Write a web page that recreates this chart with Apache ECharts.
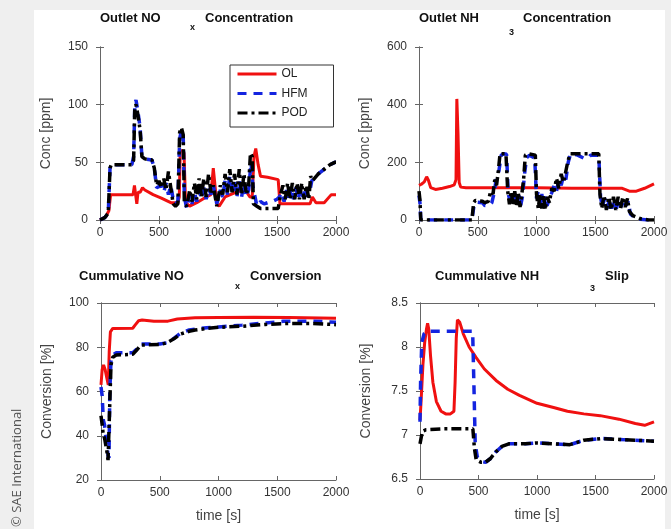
<!DOCTYPE html>
<html>
<head>
<meta charset="utf-8">
<script src="https://cdn.jsdelivr.net/npm/echarts@6/dist/echarts.min.js"></script>
<style>
  html, body { margin: 0; padding: 0; background: #efefef; }
  #chart { width: 671px; height: 529px; }
</style>
</head>
<body>
<div id="chart"></div>
<script>
// ---- data (time [s], value) ----
var timeTicks = [0, 500, 1000, 1500, 2000];

// Outlet NOx concentration [ppm]
var noxOL = [[0,0],[50,3],[75,8],[90,22],[280,22],[292,30],[302,22],[312,14],[322,24],[340,24],[360,28],[380,26],[450,22],[520,19],[600,15],[660,15],[672,20],[680,60],[700,60],[712,58],[725,15],[760,12],[820,15],[900,20],[940,22],[960,45],[975,46],[990,14],[1010,12],[1060,20],[1150,24],[1230,26],[1270,20],[1290,20],[1305,55],[1320,62],[1340,48],[1360,38],[1420,37],[1510,35],[1525,14],[1600,14],[1780,14],[1800,20],[1830,15],[1900,15],[1960,22],[2000,22]];
var noxHFM = [[0,0],[40,2],[70,6],[85,45],[95,48],[270,48],[285,55],[295,100],[305,104],[320,95],[340,80],[355,55],[380,53],[440,52],[460,45],[480,28],[520,30],[540,24],[560,32],[580,22],[600,30],[620,18],[640,14],[660,16],[675,70],[690,78],[705,74],[715,20],[735,10],[760,22],[780,14],[800,24],[820,16],[840,26],[860,18],[880,28],[900,18],[920,28],[940,22],[960,30],[990,14],[1020,26],[1040,20],[1060,34],[1080,22],[1100,38],[1120,22],[1140,36],[1160,20],[1180,34],[1200,20],[1220,32],[1240,20],[1260,26],[1280,50],[1295,30],[1310,22],[1330,12],[1360,16],[1390,14],[1420,15],[1460,16],[1500,18],[1520,20],[1540,24],[1560,16],[1580,26],[1600,16],[1620,28],[1640,18],[1660,28],[1680,18],[1700,28],[1720,20],[1740,28],[1760,20],[1780,26],[1795,34],[1810,34],[1850,40],[1900,44],[1950,48],[1990,50],[2000,50]];
var noxPOD = [[0,0],[40,2],[70,6],[85,45],[95,48],[270,48],[285,52],[295,98],[305,100],[320,92],[340,78],[355,55],[380,53],[440,52],[460,45],[480,30],[500,34],[520,28],[540,36],[560,26],[580,42],[600,28],[620,14],[640,12],[660,14],[675,76],[690,80],[705,74],[715,14],[735,12],[760,26],[780,16],[800,32],[820,18],[840,36],[860,20],[880,36],[900,20],[920,40],[940,24],[960,30],[990,12],[1020,30],[1040,22],[1060,40],[1080,24],[1100,44],[1120,24],[1140,40],[1160,22],[1180,44],[1200,22],[1220,40],[1240,22],[1260,30],[1275,58],[1290,55],[1300,14],[1330,12],[1360,10],[1400,10],[1460,10],[1510,10],[1530,22],[1550,30],[1570,18],[1590,32],[1610,18],[1630,32],[1650,18],[1670,32],[1690,18],[1710,32],[1730,18],[1750,30],[1770,18],[1785,38],[1800,34],[1850,40],[1900,44],[1950,48],[1990,50],[2000,50]];

// Outlet NH3 concentration [ppm]
var nh3OL = [[0,120],[20,124],[45,132],[65,150],[80,138],[100,112],[140,106],[200,110],[260,116],[300,122],[315,140],[322,420],[332,300],[342,130],[355,114],[400,112],[700,112],[1000,112],[1300,110],[1500,110],[1730,110],[1790,100],[1850,100],[1920,110],[2000,125]];
var nh3HFM = [[0,85],[8,60],[15,0],[100,0],[300,0],[450,0],[470,55],[490,62],[540,60],[560,50],[600,50],[620,60],[640,95],[660,150],[680,170],[700,225],[720,230],[745,228],[760,90],[775,65],[790,95],[805,60],[820,90],[835,55],[850,85],[865,50],[880,80],[900,165],[915,215],[940,225],[985,215],[1000,75],[1015,100],[1030,55],[1045,90],[1060,45],[1075,85],[1090,50],[1110,75],[1130,95],[1150,120],[1170,100],[1190,140],[1210,120],[1230,155],[1250,140],[1270,200],[1290,230],[1350,225],[1400,215],[1440,215],[1460,225],[1530,225],[1545,80],[1560,45],[1580,75],[1600,40],[1620,70],[1640,40],[1660,70],[1680,40],[1700,70],[1720,45],[1740,70],[1760,50],[1780,65],[1800,20],[1830,10],[1880,3],[1950,0],[2000,0]];
var nh3POD = [[0,100],[8,70],[15,0],[100,0],[300,0],[450,0],[465,60],[480,68],[540,65],[560,60],[590,65],[610,100],[630,90],[645,140],[660,120],[675,170],[690,230],[740,230],[755,100],[770,55],[785,100],[800,50],[815,100],[830,50],[845,95],[860,45],[875,90],[890,140],[905,225],[930,230],[990,225],[1000,90],[1015,40],[1030,90],[1045,40],[1060,85],[1075,35],[1090,80],[1110,60],[1130,110],[1150,100],[1170,145],[1190,110],[1210,160],[1230,130],[1250,170],[1265,200],[1285,230],[1530,230],[1540,90],[1555,40],[1575,85],[1595,35],[1615,80],[1635,35],[1655,80],[1675,35],[1695,80],[1715,40],[1735,80],[1755,45],[1775,75],[1790,30],[1820,15],[1880,5],[1950,0],[2000,0]];

// Cumulative NOx conversion [%]
var convOL = [[0,63],[10,70],[22,72],[35,70],[50,66],[62,63],[70,78],[80,87],[100,88.5],[270,88.6],[290,90],[320,92],[350,92.3],[450,91.8],[570,91.8],[650,92.8],[800,93.3],[1000,93.5],[1300,93.6],[1600,93.5],[2000,93.1]];
var convHFM = [[0,62],[10,58],[20,47],[30,45],[40,40],[50,37],[60,31],[68,30],[75,60],[85,74],[100,76.5],[130,77.5],[270,77.5],[300,79],[340,81.5],[500,81.5],[560,82],[620,84],[680,86.5],[750,87.8],[800,88.2],[900,88.8],[1000,89.2],[1200,90],[1400,91],[1550,91.7],[1800,91.8],[2000,91.3]];
var convPOD = [[0,49],[10,45],[20,40],[30,39],[40,36],[50,33],[60,29],[68,28.5],[75,55],[85,72],[100,75.5],[130,76.5],[270,76.8],[300,78.5],[340,81],[500,81.2],[560,82],[620,83.8],[680,86],[750,87.2],[800,87.8],[900,88.5],[1000,89],[1200,89.5],[1400,90.3],[1550,90.7],[1800,90.8],[2000,90.2]];

// Cumulative NH3 slip [%]
var slipOL = [[0,7.17],[10,7.4],[25,7.8],[40,8.05],[55,8.2],[65,8.27],[75,8.2],[90,7.9],[110,7.6],[140,7.38],[180,7.27],[220,7.24],[260,7.24],[290,7.27],[300,7.6],[310,8.1],[320,8.31],[340,8.28],[370,8.15],[420,8.0],[480,7.88],[550,7.75],[650,7.62],[750,7.52],[850,7.45],[1000,7.36],[1150,7.31],[1260,7.27],[1400,7.24],[1540,7.22],[1700,7.18],[1840,7.13],[1920,7.11],[2000,7.15]];
var slipHFM = [[0,7.15],[5,7.6],[15,8.05],[35,8.15],[60,8.18],[200,8.18],[450,8.18],[462,7.5],[472,6.9],[490,6.75],[520,6.7],[560,6.69],[600,6.73],[650,6.81],[700,6.87],[760,6.9],[900,6.9],[1000,6.91],[1150,6.9],[1280,6.89],[1400,6.94],[1550,6.96],[1700,6.95],[2000,6.93]];
var slipPOD = [[0,6.9],[10,6.97],[20,7.04],[50,7.06],[200,7.07],[452,7.07],[465,6.85],[480,6.72],[520,6.69],[560,6.69],[600,6.73],[650,6.81],[700,6.87],[760,6.9],[900,6.9],[1000,6.91],[1150,6.9],[1280,6.89],[1400,6.94],[1550,6.96],[1700,6.95],[2000,6.93]];

var yRanges = [[0, 150, 50], [0, 600, 200], [20, 100, 20], [6.5, 8.5, 0.5]];
var yNames = ['Conc [ppm]', 'Conc [ppm]', 'Conversion [%]', 'Conversion [%]'];
var xNames = ['', '', 'time [s]', 'time [s]'];
var panels = [
  [noxOL, noxHFM, noxPOD],
  [nh3OL, nh3HFM, nh3POD],
  [convOL, convHFM, convPOD],
  [slipOL, slipHFM, slipPOD]
];

// ---- layout ----
var FONT = 'Liberation Sans';
var grids = [
  {left: 100, top: 47, width: 236, height: 173},
  {left: 419, top: 47, width: 235, height: 173},
  {left: 101, top: 303, width: 235, height: 177},
  {left: 420, top: 303, width: 234, height: 176}
];

var frame = '#666';
var plain = function (v) { return String(v); };
var xAxes = [], yAxes = [], series = [];
grids.forEach(function (g, i) {
  var r = yRanges[i];
  xAxes.push({
    gridIndex: i, type: 'value', min: 0, max: 2000, interval: 500, position: 'bottom',
    name: xNames[i], nameLocation: 'middle', nameGap: 29,
    nameTextStyle: {fontFamily: FONT, fontSize: 14, color: '#444'},
    axisLine: {show: true, lineStyle: {color: frame}},
    axisTick: {inside: true, length: 4, lineStyle: {color: frame}},
    axisLabel: {fontFamily: FONT, fontSize: 12, color: '#333', margin: 7, formatter: plain},
    splitLine: {show: false}
  });
  yAxes.push({
    gridIndex: i, type: 'value', min: r[0], max: r[1], interval: r[2], position: 'left',
    name: yNames[i], nameLocation: 'middle', nameGap: 47,
    nameTextStyle: {fontFamily: FONT, fontSize: 14, color: '#444'},
    axisLine: {show: true, lineStyle: {color: frame}},
    axisTick: {inside: true, length: 4, lineStyle: {color: frame}},
    axisLabel: {fontFamily: FONT, fontSize: 12, color: '#333', margin: 12, formatter: plain},
    splitLine: {show: false}
  });
});
// mirrored ticks on top and right edges
grids.forEach(function (g, i) {
  var r = yRanges[i];
  xAxes.push({
    gridIndex: i, type: 'value', min: 0, max: 2000, interval: 500, position: 'top',
    axisLine: {show: true, lineStyle: {color: frame}},
    axisTick: {inside: true, length: 4, lineStyle: {color: frame}},
    axisLabel: {show: false}, splitLine: {show: false}
  });
  yAxes.push({
    gridIndex: i, type: 'value', min: r[0], max: r[1], interval: r[2], position: 'right',
    axisLine: {show: true, lineStyle: {color: frame}},
    axisTick: {inside: true, length: 4, lineStyle: {color: frame}},
    axisLabel: {show: false}, splitLine: {show: false}
  });
});

var seriesStyle = [
  {name: 'OL', color: '#f01010', width: 3, type: 'solid'},
  {name: 'HFM', color: '#1424e0', width: 3.5, type: [9, 7]},
  {name: 'POD', color: '#000000', width: 3.5, type: [10, 4, 3, 4]}
];
panels.forEach(function (p, i) {
  p.forEach(function (d, k) {
    var s = seriesStyle[k];
    series.push({
      name: s.name, type: 'line', xAxisIndex: i, yAxisIndex: i,
      data: d, symbol: 'none', smooth: false,
      lineStyle: {color: s.color, width: s.width, type: s.type},
      itemStyle: {color: s.color},
      z: 2 + k
    });
  });
});

function t(text, left, top, size) {
  return {text: text, left: left, top: top, padding: 0,
    textStyle: {fontFamily: FONT, fontSize: size, fontWeight: 'bold', color: '#111'}};
}
var titles = [
  t('Outlet NO', 100, 12, 13), t('x', 190, 23, 9), t('Concentration', 205, 12, 13),
  t('Outlet NH', 419, 12, 13), t('3', 509, 28, 9), t('Concentration', 523, 12, 13),
  t('Cummulative NO', 79, 270, 13), t('x', 235, 282, 9), t('Conversion', 250, 270, 13),
  t('Cummulative NH', 435, 270, 13), t('3', 590, 284, 9), t('Slip', 605, 270, 13)
];

var chart = echarts.init(document.getElementById('chart'));
chart.setOption({
  backgroundColor: '#efefef',
  animation: false,
  title: titles,
  graphic: [
    {type: 'rect', z: -10, shape: {x: 34, y: 10, width: 631, height: 519}, style: {fill: '#ffffff'}},
    {type: 'text', x: 11, y: 527, rotation: Math.PI / 2,
      style: {text: '\u00a9 SAE International', fontFamily: 'Open Sans', fontSize: 13, fill: '#555'}}
  ],
  legend: {
    data: ['OL', 'HFM', 'POD'], orient: 'vertical', left: 230, top: 65,
    padding: [3, 26, 8, 6], itemWidth: 39, itemHeight: 14, itemGap: 7.5,
    backgroundColor: '#fff', borderColor: '#333', borderWidth: 1,
    itemStyle: {opacity: 0},
    lineStyle: {width: 3},
    textStyle: {fontFamily: FONT, fontSize: 12, color: '#222'}
  },
  grid: grids,
  xAxis: xAxes,
  yAxis: yAxes,
  series: series
});
</script>
</body>
</html>
